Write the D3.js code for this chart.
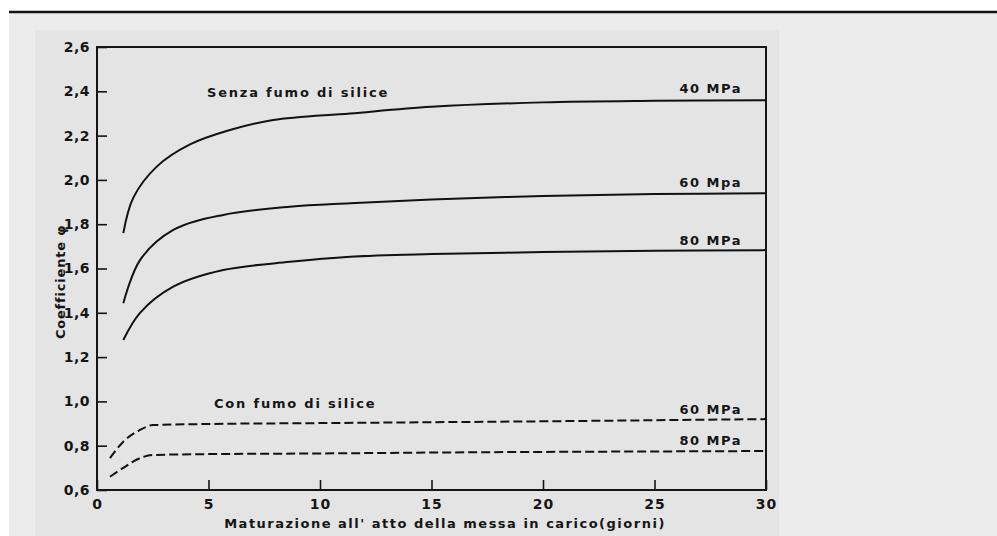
<!DOCTYPE html>
<html>
<head>
<meta charset="utf-8">
<script src="https://cdn.jsdelivr.net/npm/d3@7"></script>
<style>
  body { margin: 0; background: #ffffff; }
  svg { display: block; }
  text { font-family: "DejaVu Sans", sans-serif; font-weight: bold; fill: #151515; }
</style>
</head>
<body>
<svg id="vis"></svg>
<script>
// days and coefficient values
const days40 = [1.18, 1.63, 2.68, 4.17, 5.96, 7.9, 11.35, 15, 20, 25, 30];
const senza40 = [1.76, 1.92, 2.06, 2.16, 2.225, 2.27, 2.30, 2.33, 2.35, 2.357, 2.36];

const daysSenza = [1.18, 1.93, 3.42, 5.66, 8.65, 11.35, 15, 20, 25, 30];
const senza60 = [1.443, 1.638, 1.774, 1.842, 1.879, 1.895, 1.912, 1.927, 1.936, 1.94];
const senza80 = [1.277, 1.40, 1.518, 1.593, 1.63, 1.653, 1.665, 1.674, 1.68, 1.683];

const daysCon = [0.58, 1.18, 1.93, 2.5, 5, 10, 15, 20, 25, 30];
const con60 = [0.744, 0.818, 0.871, 0.893, 0.898, 0.902, 0.906, 0.91, 0.915, 0.92];
const con80 = [0.66, 0.70, 0.744, 0.758, 0.762, 0.765, 0.769, 0.772, 0.774, 0.776];

const xTicks = [0, 5, 10, 15, 20, 25, 30];
const yTicks = [0.6, 0.8, 1.0, 1.2, 1.4, 1.6, 1.8, 2.0, 2.2, 2.4, 2.6];

const seriesLabels = ["40 MPa", "60 Mpa", "80 MPa", "60 MPa", "80 MPa"];
const groupLabels = ["Senza fumo di silice", "Con fumo di silice"];
const xTitle = "Maturazione all' atto della messa in carico(giorni)";
const yTitle = "Coefficiente φ";

function drawChart() {
  const width = 997, height = 536;

  const svg = d3.select("#vis")
    .attr("width", width)
    .attr("height", height);

  // scanned page background
  svg.append("rect").attr("x", 9).attr("y", 13).attr("width", width - 9).attr("height", height - 13)
    .style("fill", "#ececec");
  svg.append("rect").attr("x", 35).attr("y", 30).attr("width", 744).attr("height", height - 30)
    .style("fill", "#e4e4e4");
  svg.append("line").attr("x1", 9).attr("x2", width).attr("y1", 12).attr("y2", 12)
    .style("stroke", "#111").style("stroke-width", 2.5);

  const x = d3.scaleLinear().domain([0, 30]).range([97, 766]);
  const y = d3.scaleLinear().domain([0.6, 2.6]).range([490, 47]);

  const fmt = d => d3.format(".1f")(d).replace(".", ",");

  // frame
  svg.append("rect")
    .attr("x", x(0)).attr("y", y(2.6))
    .attr("width", x(30) - x(0)).attr("height", y(0.6) - y(2.6))
    .style("fill", "none").style("stroke", "#151515").style("stroke-width", 2);

  const yAxis = svg.append("g")
    .attr("transform", `translate(${x(0)},0)`)
    .call(d3.axisLeft(y).tickValues(yTicks).tickFormat(fmt).tickSize(-10).tickPadding(7));
  const xAxis = svg.append("g")
    .attr("transform", `translate(0,${y(0.6)})`)
    .call(d3.axisBottom(x).tickValues(xTicks).tickFormat(d3.format("d")).tickSize(-10).tickPadding(9));

  [xAxis, yAxis].forEach(g => {
    g.select(".domain").remove();
    g.selectAll(".tick line").style("stroke", "#151515").style("stroke-width", 1.6);
    g.selectAll(".tick text")
      .style("font-family", "'DejaVu Sans', sans-serif")
      .style("font-weight", "bold")
      .style("font-size", "14px")
      .style("fill", "#151515");
  });
  yAxis.selectAll(".tick text").style("letter-spacing", "0.5px");
  xAxis.selectAll(".tick text").style("letter-spacing", "1px");

  const smooth = d3.line()
    .x(d => x(d[0]))
    .y(d => y(d[1]))
    .curve(d3.curveCatmullRom.alpha(0.5));
  const flat = d3.line()
    .x(d => x(d[0]))
    .y(d => y(d[1]))
    .curve(d3.curveMonotoneX);

  const series = [
    { days: days40, vals: senza40, dash: null },
    { days: daysSenza, vals: senza60, dash: null },
    { days: daysSenza, vals: senza80, dash: null },
    { days: daysCon, vals: con60, dash: "9,4" },
    { days: daysCon, vals: con80, dash: "9,4" }
  ];

  svg.selectAll(".curve")
    .data(series)
    .join("path")
      .attr("class", "curve")
      .attr("d", s => (s.dash ? flat : smooth)(s.days.map((d, i) => [d, s.vals[i]])))
      .style("fill", "none")
      .style("stroke", "#111")
      .style("stroke-width", 2)
      .style("stroke-dasharray", s => s.dash);

  // labels at curve ends
  const labelY = [y(senza40[senza40.length - 1]) - 7, y(senza60[senza60.length - 1]) - 6,
                  y(senza80[senza80.length - 1]) - 5, y(con60[con60.length - 1]) - 5,
                  y(con80[con80.length - 1]) - 6];
  svg.selectAll(".serieslabel")
    .data(seriesLabels)
    .join("text")
      .attr("class", "serieslabel")
      .attr("x", x(30) - 24)
      .attr("y", (d, i) => labelY[i])
      .attr("text-anchor", "end")
      .style("font-size", "13px")
      .style("letter-spacing", "1.5px")
      .text(d => d);

  svg.append("text")
    .attr("x", 207).attr("y", 97)
    .style("font-size", "13px").style("letter-spacing", "1.8px")
    .text(groupLabels[0]);
  svg.append("text")
    .attr("x", 214).attr("y", 408)
    .style("font-size", "13px").style("letter-spacing", "1.8px")
    .text(groupLabels[1]);

  svg.append("text")
    .attr("x", 445).attr("y", 528)
    .attr("text-anchor", "middle")
    .style("font-size", "13px").style("letter-spacing", "1.5px")
    .text(xTitle);

  svg.append("text")
    .attr("transform", `translate(65,282) rotate(-90)`)
    .attr("text-anchor", "middle")
    .style("font-size", "13px").style("letter-spacing", "0.8px")
    .text(yTitle);
}

drawChart();
</script>
</body>
</html>
